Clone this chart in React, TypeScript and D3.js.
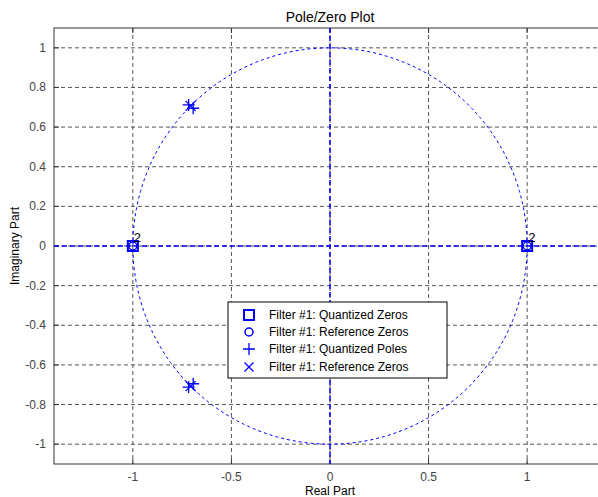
import React from "react";
import * as d3 from "d3";

const xTicks = [-1, -0.5, 0, 0.5, 1];
const yTicks = [-1, -0.8, -0.6, -0.4, -0.2, 0, 0.2, 0.4, 0.6, 0.8, 1];
const quantZerosRe = [-1, 1];
const quantZerosIm = [0, 0];
const refZerosRe = [-1, 1];
const refZerosIm = [0, 0];
const quantPolesRe = [-0.717, -0.694, -0.717, -0.694];
const quantPolesIm = [0.712, 0.695, -0.712, -0.695];
const refPolesRe = [-0.7071, -0.7071];
const refPolesIm = [0.7071, -0.7071];
const multiplicity = ["2", "2"];
const legendLabels = [
  "Filter #1: Quantized Zeros",
  "Filter #1: Reference Zeros",
  "Filter #1: Quantized Poles",
  "Filter #1: Reference Zeros",
];

const W = 598;
const H = 497;
const left = 54;
const right = 606;
const top = 28;
const bottom = 464;
const BLUE = "#0000ff";
const FONT = "'Liberation Sans', Arial, sans-serif";

export default function App() {
  const x = d3.scaleLinear().domain([-1.4, 1.4]).range([left, right]);
  const y = d3.scaleLinear().domain([-1.1, 1.1]).range([bottom, top]);
  const circle = d3.range(0, 361, 2).map((a) => [Math.cos((a * Math.PI) / 180), Math.sin((a * Math.PI) / 180)] as [number, number]);
  const line = d3.line<[number, number]>().x((d) => x(d[0])).y((d) => y(d[1]));

  const square = (cx: number, cy: number, k: string) => (
    <rect key={k} x={cx - 5} y={cy - 5} width={10} height={10} fill="none" stroke={BLUE} strokeWidth={2} />
  );
  const circ = (cx: number, cy: number, k: string) => (
    <circle key={k} cx={cx} cy={cy} r={4} fill="none" stroke={BLUE} strokeWidth={1.5} />
  );
  const plus = (cx: number, cy: number, k: string, s = 6) => (
    <path key={k} d={`M${cx - s},${cy}H${cx + s}M${cx},${cy - s}V${cy + s}`} stroke={BLUE} strokeWidth={1.3} fill="none" />
  );
  const cross = (cx: number, cy: number, k: string, s = 4.5) => (
    <path key={k} d={`M${cx - s},${cy - s}L${cx + s},${cy + s}M${cx - s},${cy + s}L${cx + s},${cy - s}`} stroke={BLUE} strokeWidth={1.3} fill="none" />
  );

  const legX = 228, legY = 302, legW = 219, legH = 76;
  const rowY = [315, 332, 349, 367];
  const legMarkers = [square, circ, plus, cross];

  return (
    <svg width={W} height={H} style={{ position: "absolute", left: 0, top: 0, background: "#fff" }} fontFamily={FONT}>
      <rect x={0} y={0} width={W} height={H} fill="#fff" />
      <text x={330} y={22} textAnchor="middle" fontSize={14} fill="#000">Pole/Zero Plot</text>
      {/* grid */}
      {xTicks.map((t) => (
        <line key={"gx" + t} x1={x(t)} x2={x(t)} y1={top} y2={bottom} stroke="#555" strokeDasharray="4,3" strokeWidth={1} />
      ))}
      {yTicks.map((t) => (
        <line key={"gy" + t} x1={left} x2={right} y1={y(t)} y2={y(t)} stroke="#555" strokeDasharray="4,3" strokeWidth={1} />
      ))}
      {/* axes frame */}
      <rect x={left} y={top} width={right - left} height={bottom - top} fill="none" stroke="#333" strokeWidth={1} />
      {xTicks.map((t) => (
        <g key={"tx" + t}>
          <line x1={x(t)} x2={x(t)} y1={bottom} y2={bottom - 5} stroke="#333" />
          <line x1={x(t)} x2={x(t)} y1={top} y2={top + 5} stroke="#333" />
          <text x={x(t)} y={481} textAnchor="middle" fontSize={12} fill="#444">{String(t)}</text>
        </g>
      ))}
      {yTicks.map((t) => (
        <g key={"ty" + t}>
          <line x1={left} x2={left + 5} y1={y(t)} y2={y(t)} stroke="#333" />
          <text x={46} y={y(t) + 4} textAnchor="end" fontSize={12} fill="#444">{String(Math.round(t * 10) / 10)}</text>
        </g>
      ))}
      <text x={330} y={495} textAnchor="middle" fontSize={12} fill="#000">Real Part</text>
      <text transform={`translate(19,${y(0)}) rotate(-90)`} textAnchor="middle" fontSize={12} fill="#000">Imaginary Part</text>
      {/* unit circle and axes */}
      <path d={line(circle) || ""} fill="none" stroke={BLUE} strokeDasharray="3,3" strokeWidth={1} />
      <line x1={left} x2={right} y1={y(0)} y2={y(0)} stroke={BLUE} strokeDasharray="5,3" strokeWidth={1.5} />
      <line x1={x(0)} x2={x(0)} y1={top} y2={bottom} stroke={BLUE} strokeDasharray="5,3" strokeWidth={1.5} />
      {/* markers */}
      {quantZerosRe.map((re, i) => square(x(re), y(quantZerosIm[i]), "qz" + i))}
      {refZerosRe.map((re, i) => circ(x(re), y(refZerosIm[i]), "rz" + i))}
      {quantPolesRe.map((re, i) => plus(x(re), y(quantPolesIm[i]), "qp" + i, 6))}
      {refPolesRe.map((re, i) => cross(x(re), y(refPolesIm[i]), "rp" + i, 5))}
      {quantZerosRe.map((re, i) => (
        <text key={"m" + i} x={x(re) + 1} y={y(quantZerosIm[i]) - 4} fontSize={13} fill="#000">{multiplicity[i]}</text>
      ))}
      {/* legend */}
      <rect x={legX} y={legY} width={legW} height={legH} fill="#fff" stroke="#000" strokeWidth={1} />
      {legendLabels.map((lab, i) => (
        <g key={"l" + i}>
          {legMarkers[i](249, rowY[i], "lm" + i)}
          <text x={269} y={rowY[i] + 4} fontSize={12} fill="#000">{lab}</text>
        </g>
      ))}
    </svg>
  );
}
